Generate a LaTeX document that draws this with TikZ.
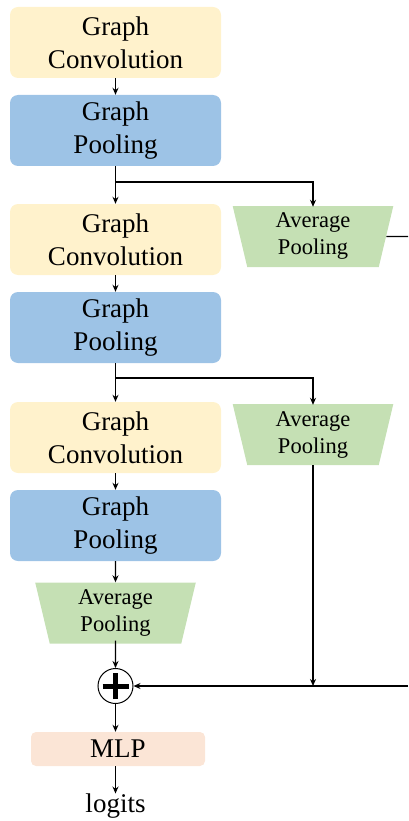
\documentclass[tikz,border=0pt]{standalone}
\usepackage{fontspec}
\setmainfont{Liberation Serif}
\usetikzlibrary{shapes.geometric,arrows.meta}
\definecolor{cyellow}{HTML}{FFF2CC}
\definecolor{cblue}{HTML}{9DC3E6}
\definecolor{cgreen}{HTML}{C5E0B4}
\definecolor{cpeach}{HTML}{FBE5D6}
\tikzset{
  box/.style={rectangle, rounded corners=8pt, minimum width=211pt, minimum height=71pt, inner sep=0pt, align=center, font=\fontsize{27}{33}\selectfont},
  gconv/.style={box, fill=cyellow},
  gpool/.style={box, fill=cblue},
  avgp/.style={trapezium, trapezium angle=80, shape border rotate=180, trapezium stretches=true, minimum width=162pt, minimum height=61pt, inner sep=0pt, fill=cgreen, align=center, font=\fontsize{22.5}{27}\selectfont},
  mlpbox/.style={rectangle, rounded corners=5pt, fill=cpeach, minimum width=174pt, minimum height=34pt, inner sep=0pt, font=\fontsize{27}{33}\selectfont},
  arr/.style={line width=1.3pt, -{Stealth[length=7pt,width=6pt]}},
  ln/.style={line width=1.3pt}
}
\begin{document}
\begin{tikzpicture}[x=1pt,y=-1pt]
\useasboundingbox (0,0) rectangle (408,821);
\node[gconv] (gc1) at (115.5,42.5) {Graph\\Convolution};
\node[gpool] (gp1) at (115.5,130.5) {Graph\\Pooling};
\node[gconv] (gc2) at (115.5,239.5) {Graph\\Convolution};
\node[avgp] (ap1) at (313,236.5) {Average\\Pooling};
\node[gpool] (gp2) at (115.5,327.5) {Graph\\Pooling};
\node[gconv] (gc3) at (115.5,437.5) {Graph\\Convolution};
\node[avgp] (ap2) at (313,434.5) {Average\\Pooling};
\node[gpool] (gp3) at (115.5,525.5) {Graph\\Pooling};
\node[avgp] (ap3) at (115.5,613) {Average\\Pooling};
\node[circle, draw, line width=1pt, minimum size=35pt, inner sep=0pt] (plus) at (115.5,686) {};
\draw[line width=5pt] ([xshift=-13pt]plus.center) -- ([xshift=13pt]plus.center);
\draw[line width=5pt] ([yshift=-13pt]plus.center) -- ([yshift=13pt]plus.center);
\node[mlpbox] (mlp) at (118,749) {MLP};
\node[font=\fontsize{27}{33}\selectfont, inner sep=0pt] (logits) at (115.5,806) {logits};
\coordinate (j1) at (115.5,182);
\coordinate (j2) at (115.5,378);
\coordinate (r1) at (408,236.5);
\coordinate (r2) at (408,686);
\draw[arr] (gc1) -- (gp1);
\draw[ln] (gp1.south) -- (j1);
\draw[arr] (j1) -- (gc2);
\draw[arr] (j1) -| ([yshift=-1pt]ap1.north);
\draw[ln] (ap1.east) -- (r1);
\draw[arr] (gc2) -- (gp2);
\draw[ln] (gp2.south) -- (j2);
\draw[arr] (j2) -- (gc3);
\draw[arr] (j2) -| ([yshift=-1pt]ap2.north);
\draw[arr] (gc3) -- (gp3);
\draw[arr] (gp3) -- (ap3);
\draw[arr] ([yshift=3pt]ap3.south) -- (plus);
\draw[arr] (r2) -- (plus);
\draw[arr] (ap2.south) -- (ap2.south |- plus.center);
\draw[arr] (plus.south) -- (plus.south |- mlp.north);
\draw[arr] (logits.north |- mlp.south) -- (logits.north);
\end{tikzpicture}
\end{document}
